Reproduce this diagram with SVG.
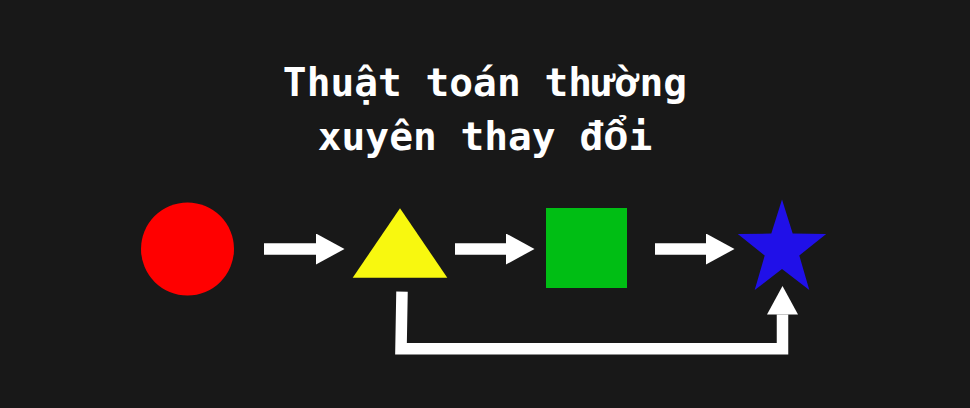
<svg xmlns="http://www.w3.org/2000/svg" width="970" height="408" viewBox="0 0 970 408">
  <style>
    .title { font-family: "DejaVu Sans Mono", "Liberation Mono", monospace; font-weight: bold; font-size: 39.5px; fill: #ffffff; text-anchor: middle; }
    .alt { font-family: "Liberation Mono", monospace; font-size: 42px; }
    .conn { fill: none; stroke: #ffffff; stroke-width: 11.5; stroke-linejoin: miter; stroke-linecap: butt; }
  </style>
  <defs>
    <marker id="head" markerUnits="userSpaceOnUse" markerWidth="30" markerHeight="32" refX="0" refY="15.5" orient="auto" viewBox="0 0 30 32">
      <path d="M0,0 L28.5,15.5 L0,31 Z" fill="#ffffff"/>
    </marker>
  </defs>
  <rect x="0" y="0" width="970" height="408" fill="#181818"/>
  <g id="title">
    <text class="title" x="485" y="96">Thu&#x1EAD;t to&#xE1;n th&#x1B0;&#x1EDD;ng</text>
    <text class="title" x="485" y="150">xuy&#xEA;n thay &#x111;<tspan class="alt">&#x1ED5;</tspan>i</text>
  </g>
  <g id="circle">
    <circle cx="187.5" cy="249" r="46.5" fill="#ff0000"/>
  </g>
  <g id="triangle">
    <polygon points="400,208.3 447.3,277.7 352.7,277.7" fill="#f8f80f"/>
  </g>
  <g id="square">
    <rect x="546" y="208" width="81" height="80" fill="#00be14"/>
  </g>
  <g id="star">
    <polygon points="782,199.5 792.7,233.6 826.2,234 799.3,255.6 809.3,290 782,269.1 754.7,290 764.7,255.6 737.8,234 771.3,233.6" fill="#2010e8"/>
  </g>
  <g id="connectors">
    <line class="conn" x1="264" y1="249" x2="316" y2="249" marker-end="url(#head)"/>
    <line class="conn" x1="455" y1="249" x2="506" y2="249" marker-end="url(#head)"/>
    <line class="conn" x1="655" y1="249" x2="706" y2="249" marker-end="url(#head)"/>
    <path class="conn" d="M402,291.7 L401,348.7 L782.5,348.7 L782.5,314.5" marker-end="url(#head)"/>
  </g>
</svg>
